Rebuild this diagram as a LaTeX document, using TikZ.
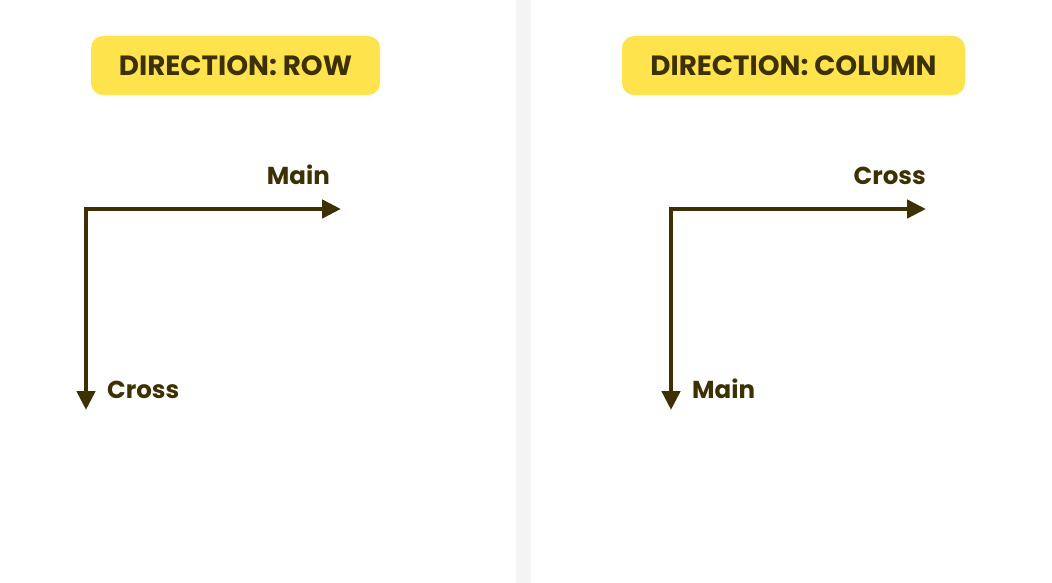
\documentclass[tikz,border=0pt]{standalone}
\usepackage{fontspec}
\setmainfont{Poppins}[BoldFont={* Bold}]
\usetikzlibrary{arrows.meta}
\definecolor{ink}{HTML}{3D3003}
\definecolor{pill}{HTML}{FFE34D}
\definecolor{divider}{HTML}{F4F4F4}
\tikzset{
  titlebox/.style={fill=pill, rounded corners=12pt, minimum width=289pt, minimum height=59pt, inner sep=0pt, text=ink, font=\bfseries\fontsize{27.8}{32}\selectfont},
  axislabel/.style={inner sep=0pt, text=ink, font=\bfseries\fontsize{24.5}{28}\selectfont},
  axis/.style={draw=ink, line width=4.5pt, -{Triangle[length=19pt,width=18pt]}}
}
\begin{document}
\begin{tikzpicture}[x=1pt,y=-1pt]
\useasboundingbox (0,0) rectangle (1052,583);
\fill[white] (0,0) rectangle (1052,583);
\fill[divider] (516,0) rectangle (531,583);
% left panel
\node[titlebox] (t1) at (235.5,65.5) {DIRECTION: ROW};
\coordinate (c1) at (86,209);
\coordinate (h1) at (341,209);
\coordinate (v1) at (86,410);
\draw[axis] ([xshift=-2.25pt]c1) -- (h1);
\draw[axis] (c1) -- (v1);
\node[axislabel, anchor=base east] (m1) at (330,184) {Main};
\node[axislabel, anchor=base west] (x1) at (107,398) {Cross};
% right panel
\node[titlebox, minimum width=343pt] (t2) at (793.5,65.5) {DIRECTION: COLUMN};
\coordinate (c2) at (671,209);
\coordinate (h2) at (926,209);
\coordinate (v2) at (671,410);
\draw[axis] ([xshift=-2.25pt]c2) -- (h2);
\draw[axis] (c2) -- (v2);
\node[axislabel, anchor=base east] (x2) at (926,184) {Cross};
\node[axislabel, anchor=base west] (m2) at (692,398) {Main};
\end{tikzpicture}
\end{document}
